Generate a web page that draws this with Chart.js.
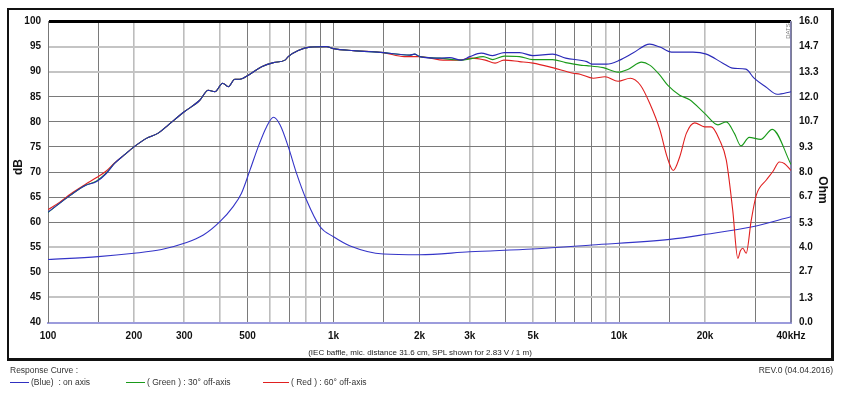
<!DOCTYPE html>
<html>
<head>
<meta charset="utf-8">
<script src="https://cdn.jsdelivr.net/npm/chart.js@4.4.1/dist/chart.umd.min.js"></script>
<style>
  html, body { margin:0; padding:0; background:#fff; }
  #wrap { position:relative; width:842px; height:395px; overflow:hidden; font-family:"Liberation Sans", Arial, sans-serif; }
  #c { position:absolute; left:0; top:0; }
  .t { position:absolute; white-space:nowrap; color:#222; }
  .c { transform:translate(-50%,-50%); }
  .ls { display:inline-block; vertical-align:middle; width:19px; height:0; border-top:1px solid; margin-right:2px; }
</style>
</head>
<body>
<div id="wrap">
  <canvas id="c" width="842" height="395"></canvas>
  <div style="position:absolute;left:7px;top:8px;width:827px;height:353px;box-sizing:border-box;border:2px solid #111;border-right-width:3px;border-bottom-width:3px;"></div>
  <div class="t" style="left:18px;top:167px;transform:translate(-50%,-50%) rotate(-90deg);font-weight:bold;font-size:12px;color:#111;">dB</div>
  <div class="t" style="left:823px;top:190px;transform:translate(-50%,-50%) rotate(90deg);font-weight:bold;font-size:12px;color:#111;">Ohm</div>
  <div class="t" style="left:788px;top:31px;transform:translate(-50%,-50%) rotate(-90deg);font-size:6px;color:#777;">DATS</div>
  <div class="t c" style="left:420px;top:352px;font-size:8px;">(IEC baffle, mic. distance 31.6 cm, SPL shown for 2.83 V / 1 m)</div>
  <div class="t" style="left:10px;top:365px;font-size:8.5px;color:#333;">Response Curve :</div>
  <div class="t" style="left:10px;top:377px;font-size:8.5px;color:#333;"><span class="ls" style="border-color:#3030c0"></span>(Blue)&nbsp; : on axis</div>
  <div class="t" style="left:126px;top:377px;font-size:8.5px;color:#333;"><span class="ls" style="border-color:#1a9a1a"></span>( Green ) : 30° off-axis</div>
  <div class="t" style="left:263px;top:377px;font-size:8.5px;color:#333;"><span class="ls" style="border-color:#e02020;width:26px"></span>( Red ) : 60° off-axis</div>
  <div class="t" style="right:9px;top:365px;font-size:8.5px;color:#333;">REV.0 (04.04.2016)</div>
</div>
<script>
// ---- data ----
const freqOnAxis = [100,110,120,135,148,160,171,185,200,221,244,264,300,340,364,384,409,428,451,470,503,560,616,676,694,752,826,945,1000,1175,1495,1852,1920,2005,2354,2550,2800,3000,3290,3610,3960,4480,4990,5850,6500,7710,8020,9040,10050,11180,12800,13900,15260,18140,20200,23080,25000,27800,29700,32600,35800,40000];
const splOnAxis  = [62.0,63.8,65.4,67.3,68.1,69.7,71.7,73.4,75.0,76.7,77.8,79.4,82.0,84.3,86.3,86.0,87.7,87.0,88.5,88.5,89.3,91.0,91.8,92.3,93.0,94.2,94.9,95.0,94.6,94.2,93.8,93.3,93.5,93.0,92.7,92.8,92.3,93.0,93.7,93.2,93.8,93.8,93.2,93.5,92.7,92.0,91.5,91.5,92.3,93.7,95.5,94.9,93.9,93.9,93.5,91.7,90.7,90.5,88.7,87.0,85.5,86.0];

const freq30 = [100,110,120,135,148,160,171,185,200,221,244,264,300,340,364,384,409,428,451,470,503,560,616,676,694,752,826,945,1000,1175,1495,1852,1920,2005,2354,2620,2800,3040,3340,3610,3960,4480,4990,5850,6500,7300,7710,8800,9920,10770,11990,12800,13800,14850,16300,17670,19930,22200,23730,25340,26720,28550,31330,34390,40000];
const spl30  = [61.9,63.8,65.4,67.3,68.2,69.8,71.7,73.4,75.0,76.7,77.8,79.4,82.0,84.3,86.3,86.0,87.7,87.0,88.5,88.5,89.3,91.0,91.8,92.3,93.0,94.2,94.9,95.0,94.6,94.2,93.8,93.3,93.5,93.0,92.7,92.4,92.3,92.6,93.0,92.4,93.1,93.0,92.4,92.4,91.8,91.3,91.2,90.8,89.9,90.5,91.9,91.3,89.5,87.2,85.3,84.4,81.7,79.4,80.0,77.7,75.2,76.9,76.5,78.5,71.5];

const freq60 = [100,110,120,135,148,160,171,185,200,221,244,264,300,340,364,384,409,428,451,470,503,560,616,676,694,752,826,945,1000,1175,1495,1770,2005,2180,2420,2760,3040,3400,3680,3950,4480,4990,5850,6900,7300,8120,8920,9920,10950,11880,12800,13900,14730,15480,16300,17200,18400,19930,21030,22480,23730,25000,26050,26600,27120,27870,29030,30240,32780,34560,36420,37900,40000];
const spl60  = [62.5,64.0,65.6,67.5,68.9,70.2,71.8,73.4,75.0,76.7,77.8,79.4,82.0,84.3,86.3,86.0,87.7,87.0,88.5,88.5,89.3,91.0,91.8,92.3,93.0,94.2,94.9,95.0,94.6,94.2,93.8,93.0,93.0,92.7,92.3,92.3,92.7,92.3,91.7,92.3,92.0,91.7,90.8,89.7,89.5,88.7,89.0,88.1,88.7,87.3,83.7,78.4,73.0,70.3,73.0,77.7,79.8,79.0,79.0,76.4,72.4,62.4,52.8,54.3,54.8,53.8,60.4,65.4,68.4,70.1,72.0,71.7,70.3];

const freqImp = [100,150,200,250,300,350,400,445,476,510,545,583,616,650,694,742,804,897,1000,1144,1495,2005,3000,4990,8020,15060,20200,29300,40000];
const impOhm  = [3.35,3.50,3.68,3.88,4.21,4.65,5.36,6.16,6.87,8.11,9.35,10.41,10.91,10.50,9.35,7.93,6.51,5.09,4.56,4.07,3.64,3.60,3.76,3.91,4.12,4.42,4.69,5.09,5.62];

const freqGrid = [100,150,200,300,400,500,600,700,800,900,1000,1500,2000,3000,4000,5000,6000,7000,8000,9000,10000,15000,20000,30000,40000];
const freqLabels = {100:'100',200:'200',300:'300',500:'500',1000:'1k',2000:'2k',3000:'3k',5000:'5k',10000:'10k',20000:'20k',40000:'40kHz'};
const dbTicks = [40,45,50,55,60,65,70,75,80,85,90,95,100];
const ohmTickLabels = ['0.0','1.3','2.7','4.0','5.3','6.7','8.0','9.3','10.7','12.0','13.3','14.7','16.0'];

// ---- styling helpers ----
const lightFreq = [200,300,400,600,800,3000,5000,9000,20000];
const lightDb = [45,55,90,95];
const tickFont = {family:'"Liberation Sans", Arial, sans-serif', size:10, weight:'bold'};
const pts = (xs, ys) => xs.map((x,i)=>({x:x, y:ys[i]}));

// first dataset is drawn on top
new Chart(document.getElementById('c'), {
  type:'line',
  data:{ datasets:[
    {label:'Blue', data:pts(freqOnAxis, splOnAxis), yAxisID:'y', borderColor:'#2a2ab8'},
    {label:'Green', data:pts(freq30, spl30), yAxisID:'y', borderColor:'#1a9a1a'},
    {label:'Red', data:pts(freq60, spl60), yAxisID:'y', borderColor:'#e02020'},
    {label:'Impedance', data:pts(freqImp, impOhm), yAxisID:'yOhm', borderColor:'#3535c8'}
  ]},
  options:{
    responsive:false, animation:false,
    layout:{padding:{top:21.5,left:0,right:0,bottom:0}},
    plugins:{legend:{display:false}, tooltip:{enabled:false}},
    elements:{point:{radius:0}, line:{borderWidth:1.1, cubicInterpolationMode:'monotone', fill:false}},
    scales:{
      x:{
        type:'logarithmic', min:100, max:40000,
        afterBuildTicks:s=>{ s.ticks = freqGrid.map(v=>({value:v})); },
        afterFit:s=>{ s.height = 72.5; },
        ticks:{autoSkip:false, maxRotation:0, padding:8, font:tickFont, color:'#111',
          callback:(v)=> freqLabels[v] || ''},
        grid:{drawTicks:false,
          color:c=> lightFreq.includes(c.tick && c.tick.value) ? '#bdbdbd' : '#7a7a7a',
          lineWidth:c=> lightFreq.includes(c.tick && c.tick.value) ? 1.6 : 1},
        border:{color:'#9c9cdc', width:2}
      },
      y:{
        position:'left', min:40, max:100,
        afterBuildTicks:s=>{ s.ticks = dbTicks.map(v=>({value:v})); },
        afterFit:s=>{ s.width = 48; },
        ticks:{padding:7, font:tickFont, color:'#111', callback:v=>String(v)},
        grid:{drawTicks:false,
          color:c=> { const v=c.tick && c.tick.value; return v===100 ? '#000' : (lightDb.includes(v) ? '#c4c4c4' : '#7a7a7a'); },
          lineWidth:c=> { const v=c.tick && c.tick.value; return v===100 ? 3 : (lightDb.includes(v) ? 2 : 1); }},
        border:{color:'#777', width:1}
      },
      yOhm:{
        position:'right', min:0, max:16,
        afterBuildTicks:s=>{ s.ticks = ohmTickLabels.map(l=>({value:parseFloat(l)})); },
        afterFit:s=>{ s.width = 51; },
        ticks:{padding:8, font:tickFont, color:'#111', callback:(v,i)=>ohmTickLabels[i]},
        grid:{display:false, drawTicks:false},
        border:{color:'#8080b0', width:1.5}
      }
    }
  }
});
</script>
</body>
</html>
